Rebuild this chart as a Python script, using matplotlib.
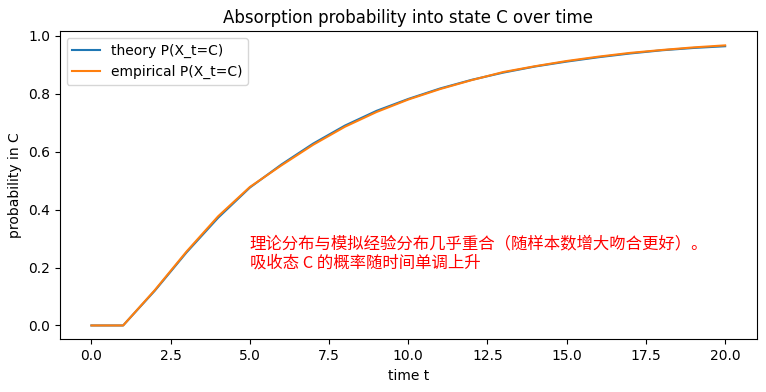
import matplotlib
matplotlib.use('Agg')
import matplotlib.pyplot as plt

plt.rcParams['font.family'] = ['DejaVu Sans', 'Noto Sans CJK SC']

# time steps and absorption probabilities
tempos = list(range(0, 21))
teoria = [0.0, 0.0, 0.120, 0.252, 0.372, 0.476, 0.556, 0.628, 0.690, 0.741,
          0.782, 0.818, 0.848, 0.873, 0.894, 0.911, 0.926, 0.939, 0.950, 0.958, 0.964]
empirico = [0.0, 0.0, 0.122, 0.255, 0.377, 0.478, 0.553, 0.624, 0.686, 0.737,
            0.780, 0.816, 0.847, 0.875, 0.895, 0.913, 0.928, 0.941, 0.951, 0.960, 0.967]

nota = '理论分布与模拟经验分布几乎重合（随样本数增大吻合更好）。\n吸收态 C 的概率随时间单调上升'

fig, ax = plt.subplots(figsize=(7.66, 3.92), dpi=100)
ax.plot(tempos, teoria, color='#1f77b4', label='theory P(X_t=C)')
ax.plot(tempos, empirico, color='#ff7f0e', label='empirical P(X_t=C)')
ax.set_title('Absorption probability into state C over time')
ax.set_xlabel('time t')
ax.set_ylabel('probability in C')
ax.legend(loc='upper left')
ax.text(5, 0.2, nota, color='red', fontsize=11.8,
        family=['Noto Sans CJK SC', 'DejaVu Sans'])

fig.subplots_adjust(left=0.078, right=0.988, top=0.92, bottom=0.134)
fig.savefig('out.png')
